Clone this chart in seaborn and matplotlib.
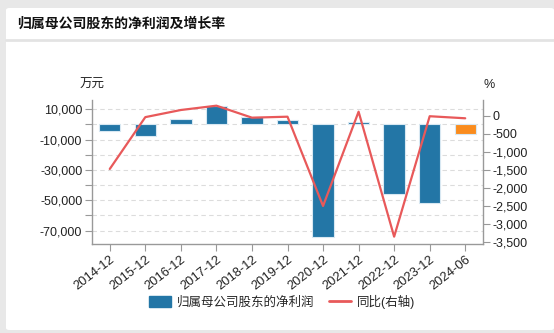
import numpy as np
import pandas as pd
import matplotlib
matplotlib.use("Agg")
import matplotlib.pyplot as plt
from matplotlib.patches import Patch, FancyBboxPatch
from matplotlib.lines import Line2D
import seaborn as sns

# ---- data ----
periods = ["2014-12", "2015-12", "2016-12", "2017-12", "2018-12", "2019-12",
           "2020-12", "2021-12", "2022-12", "2023-12", "2024-06"]
net_profit = [-4600, -7300, 3300, 12100, 5000, 2900,
              -74200, 1300, -46000, -51700, -6000]          # 万元
yoy_growth = [-1480, -40, 158, 278, -55, -28,
              -2509, 111, -3361, -15, -72]                   # %
bar_colors = ["#2376a6"] * 10 + ["#fa8c1e"]
left_ticks = [10000, 0, -10000, -20000, -30000, -40000, -50000, -60000, -70000]
right_ticks = [0, -500, -1000, -1500, -2000, -2500, -3000, -3500]

sns.set_theme(style="white")
plt.rcParams["font.family"] = ["Liberation Sans", "Noto Sans CJK SC", "DejaVu Sans"]
plt.rcParams["axes.unicode_minus"] = False

W, H = 554, 333
fig = plt.figure(figsize=(W / 100, H / 100), dpi=100)
fig.patch.set_facecolor("#e8e8e8")

# white card
card = FancyBboxPatch((6 / W, 3 / H), (W - 6) / W, (325 - 3) / H,
                      boxstyle="round,pad=0,rounding_size=0.006",
                      transform=fig.transFigure, facecolor="white",
                      edgecolor="none", zorder=-10)
fig.patches.append(card)
fig.add_artist(Line2D([6 / W, 1], [1 - 40 / H, 1 - 40 / H], transform=fig.transFigure,
                      color="#e3e3e3", lw=2, zorder=-5))
fig.text(17 / W, 1 - 24 / H, "归属母公司股东的净利润及增长率", fontsize=10,
         fontweight="bold", va="center", ha="left", color="#111111",
         family=["Noto Sans CJK SC", "DejaVu Sans"])

ax = fig.add_axes([92 / W, 1 - 244 / H, (483 - 92) / W, (244 - 100) / H])
ax.set_facecolor("none")
df = pd.DataFrame({"period": periods, "profit": net_profit})
sns.barplot(data=df, x="period", y="profit", hue="period", palette=bar_colors,
            legend=False, width=0.6, ax=ax, edgecolor="#d8e8f2", linewidth=0.8,
            saturation=1, zorder=3)
ax.set_xlim(-0.5, len(periods) - 0.5)
ax.set_ylim(-78800, 16100)
ax.set_yticks(left_ticks)
ax.set_yticklabels([f"{v:,}" if (v // 10000) % 2 != 0 else "" for v in left_ticks])
ax.yaxis.grid(True, linestyle=(0, (4, 3)), color="#dcdcdc", lw=0.8)
ax.set_axisbelow(True)
ax.set_xlabel("")
ax.set_ylabel("")
for s in ["top", "right"]:
    ax.spines[s].set_visible(False)
for s in ["left", "bottom"]:
    ax.spines[s].set_color("#999999")
    ax.spines[s].set_linewidth(1.0)
ax.tick_params(axis="both", which="both", length=5, width=0.8, color="#999999",
               labelsize=9, labelcolor="#222222", pad=2)
ax.tick_params(axis="y", left=True)
ax.tick_params(axis="x", bottom=True, labelsize=9.3)
plt.setp(ax.get_xticklabels(), rotation=38, ha="right", rotation_mode="anchor")

ax2 = ax.twinx()
ax2.set_position(ax.get_position())
sns.lineplot(x=np.arange(len(periods)), y=yoy_growth, color="#e8595a", lw=1.6,
             ax=ax2, zorder=4)
ax2.set_ylim(-3565, 436)
ax2.set_yticks(right_ticks)
ax2.set_yticklabels([f"{v:,}" for v in right_ticks])
ax2.set_ylabel("")
for s in ["top", "left", "bottom"]:
    ax2.spines[s].set_visible(False)
ax2.spines["right"].set_color("#999999")
ax2.spines["right"].set_linewidth(1.0)
ax2.tick_params(axis="y", right=True, length=5, width=0.8, color="#999999",
                labelsize=9, labelcolor="#222222", pad=2)
ax2.grid(False)

fig.text(80 / W, 1 - 85 / H, "万元", fontsize=9, ha="left", va="center",
         color="#222222")
fig.text(483 / W, 1 - 85 / H, "%", fontsize=9, ha="left", va="center",
         color="#222222")

handles = [Patch(facecolor="#2376a6", edgecolor="#2376a6"),
           Line2D([0], [0], color="#e8595a", lw=2)]
fig.legend(handles, ["归属母公司股东的净利润", "同比(右轴)"], loc="center",
           bbox_to_anchor=(282 / W, 1 - 302 / H), ncol=2, frameon=False,
           fontsize=9, handlelength=1.8, handleheight=1.0, handletextpad=0.5,
           columnspacing=1.1)

fig.savefig("out.png", dpi=100, facecolor=fig.get_facecolor())
